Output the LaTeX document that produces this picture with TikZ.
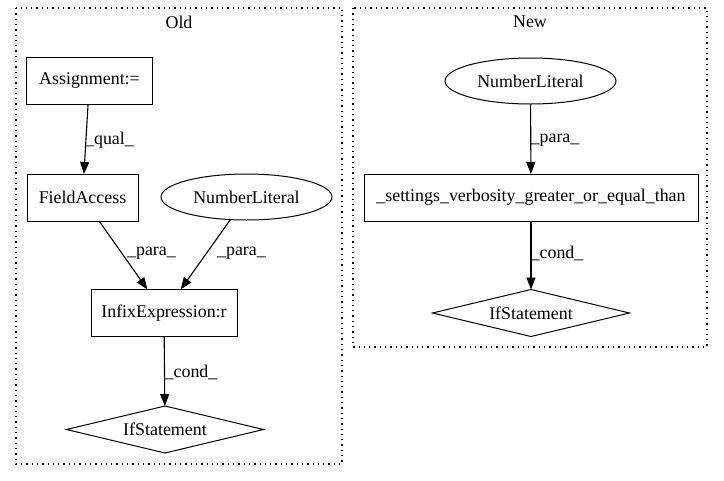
\documentclass[tikz,border=0pt]{standalone}
\usepackage{fontspec}
\setmainfont{Liberation Serif}
\usetikzlibrary{shapes.geometric,arrows.meta}

\begin{document}
\begin{tikzpicture}[x=1pt,y=-1pt,auto,
    every node/.style={font=\fontsize{17.9}{20}\selectfont,outer sep=0pt},
    box/.style={draw,line width=1pt,rectangle,minimum height=47pt,inner sep=0pt},
    ell/.style={draw,line width=1pt,ellipse,minimum width=171pt,minimum height=46pt,inner sep=0pt},
    dia/.style={draw,line width=1pt,diamond,aspect=4,minimum width=197pt,minimum height=47pt,inner sep=0pt},
    clus/.style={draw,line width=1.3pt,dash pattern=on 1.3pt off 4pt},
    edge/.style={line width=1.1pt,-{Triangle[length=12pt,width=9pt]}},
    lab/.style={inner sep=0pt}]
      \useasboundingbox (0,0) rectangle (724,480);
      \draw[clus] (16,8) rectangle (342,464);
      \draw[clus] (353,8) rectangle (707,347);
      \node (o) at (179,22) {Old};
      \node (n) at (530,22) {New};
      \node[box,minimum width=126pt] (a) at (89.5,80.5) {Assignment:=};
      \node[box,minimum width=111pt] (b) at (82.5,197.5) {FieldAccess};
      \node[ell] (c) at (246.5,197) {NumberLiteral};
      \node[box,minimum width=146pt] (d) at (164,313) {InfixExpression:r};
      \node[dia] (e) at (165,429.5) {IfStatement};
      \node[ell] (f) at (530.5,81) {NumberLiteral};
      \node[box,minimum width=334pt] (g) at (531,197.5) {\_settings\_verbosity\_greater\_or\_equal\_than};
      \node[dia] (h) at (531,313) {IfStatement};
      \draw[edge] (a) to (b);
      \draw[edge] (b) to (d);
      \draw[edge] (c) to (d);
      \draw[edge] (d) to (e);
      \draw[edge] (f) to (g);
      \draw[edge] (g) to (h);
      \node[lab] (l1) at (109.5,140) {\_qual\_};
      \node[lab] (l2) at (151.5,253) {\_para\_};
      \node[lab] (l3) at (241.5,253) {\_para\_};
      \node[lab] (l4) at (191,372) {\_cond\_};
      \node[lab] (l5) at (555,140) {\_para\_};
      \node[lab] (l6) at (557,253) {\_cond\_};
    \end{tikzpicture}
\end{document}
